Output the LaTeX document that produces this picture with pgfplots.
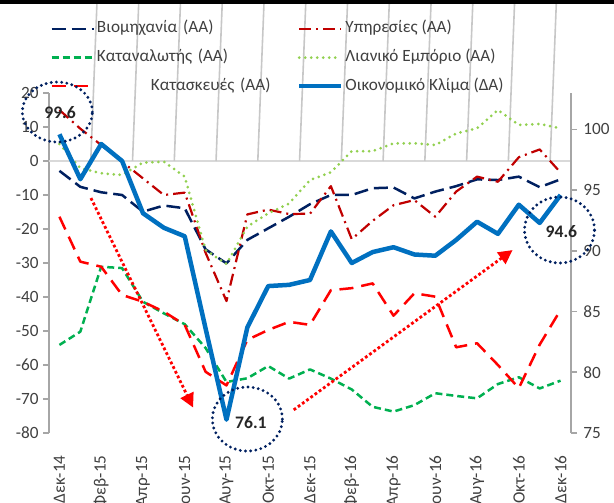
\documentclass[border=0pt]{standalone}
\usepackage{fontspec}
\setmainfont{Carlito}
\usepackage{pgfplots}
\usepackage{pgfplotstable}
\pgfplotsset{compat=1.18}
\usetikzlibrary{arrows.meta}

\definecolor{navy}{RGB}{0,32,96}
\definecolor{dred}{RGB}{192,0,0}
\definecolor{egreen}{RGB}{0,176,80}
\definecolor{lgreen}{RGB}{146,208,80}
\definecolor{ered}{RGB}{255,0,0}
\definecolor{eblue}{RGB}{0,112,192}
\definecolor{axgray}{RGB}{166,166,166}
\definecolor{zgray}{RGB}{217,217,217}
\definecolor{txt}{RGB}{64,64,64}

% x: 0 = Dec-14 ... 24 = Dec-16
\pgfplotstableread{
x ind srv cons ret con esi
0 -2.9 15.0 -54.1 5.0 -16.4 99.6
1 -7.6 9.5 -50.2 -2.1 -29.6 95.9
2 -9.2 4.7 -31.1 -3.6 -31.1 98.8
3 -10.0 -0.2 -31.5 -4.1 -39.4 97.4
4 -14.9 -5.1 -41.4 -0.5 -41.4 93.1
5 -13.1 -10.0 -44.8 -0.2 -44.3 91.9
6 -13.9 -9.3 -48.0 -4.6 -48.2 91.2
7 -26.0 -27.0 -55.0 -26.2 -62.0 83.6
8 -30.1 -41.2 -65.0 -30.3 -66.0 76.1
9 -23.2 -15.7 -63.9 -19.3 -52.6 83.7
10 -19.8 -14.3 -60.3 -15.4 -49.7 87.1
11 -16.4 -15.6 -64.0 -12.5 -47.3 87.2
12 -12.7 -15.5 -61.3 -5.6 -48.2 87.6
13 -10.0 -7.4 -64.0 -3.3 -38.0 91.6
14 -10.0 -23.0 -67.2 2.9 -37.4 89.0
15 -8.0 -17.6 -72.3 2.9 -36.0 89.9
16 -7.8 -13.0 -73.7 5.2 -45.5 90.3
17 -11.0 -11.5 -71.8 5.2 -38.9 89.7
18 -9.0 -16.4 -68.3 4.7 -39.9 89.6
19 -7.4 -9.0 -69.1 8.1 -54.8 90.9
20 -5.4 -4.6 -69.8 9.6 -53.6 92.4
21 -5.6 -6.1 -65.6 15.0 -60.0 91.4
22 -4.6 1.1 -63.6 10.6 -66.8 93.8
23 -7.7 3.4 -66.9 10.9 -54.0 92.3
24 -5.4 -3.4 -64.6 9.6 -43.8 94.6
}\data

\begin{document}
\begin{tikzpicture}
	\pgfplotsset{
		every axis/.append style={
			at={(0,0)}, anchor=south west,
			scale only axis, width=261pt, height=170pt,
			xmin=-0.5, xmax=24.5,
			tick align=outside, major tick length=3pt,
			tick label style={font=\fontsize{8.6}{10}\selectfont, text=txt},
			/pgf/number format/assume math mode=true,
			y axis line style={axgray, line width=0.8pt},
			ytick style={axgray, line width=0.8pt},
			clip=false,
		},
	}
	\begin{axis}[
	axis x line*=bottom,
	axis y line*=left,
	x axis line style={draw=none},
	xtick style={draw=none},
	ymin=-80, ymax=20,
	ytick={-80,-70,...,20},
	xtick={0,2,...,24},
	xticklabels={Δεκ-14,Φεβ-15,Απρ-15,Ιουν-15,Αυγ-15,Οκτ-15,Δεκ-15,Φεβ-16,Απρ-16,Ιουν-16,Αυγ-16,Οκτ-16,Δεκ-16},
	xticklabel style={rotate=90, anchor=east, inner sep=0pt},
	xticklabel shift=8pt,
	yticklabel style={inner xsep=0pt},
	yticklabel shift=2pt,
	legend columns=2,
	legend image code/.code={\draw[#1] (0pt,0pt) -- (21pt,0pt);},
	legend style={at={(0.002,1.213)}, anchor=north west, draw=none, fill=none,
		font=\fontsize{8.6}{10}\selectfont, text=txt, inner sep=0pt,
		row sep=6.3pt, cells={anchor=west},
		nodes={inner xsep=1pt, inner ysep=0pt, text height=6pt, text depth=2pt},
		/tikz/column 2/.style={text width=99pt}},
	]
		% zero line
		\addplot[zgray, line width=1pt, forget plot] coordinates {(-0.5,0) (24.5,0)};
		\pgfplotsinvokeforeach{1.5,3.5,...,23.5}{
			\draw[zgray!80!gray, line width=0.8pt] (axis cs:#1,0) -- ++(0,-3pt);
		}
		\addplot[navy, line width=1.25pt, dash pattern=on 7pt off 3pt, line join=round] table[x=x, y=ind] {\data};
		\addlegendentry{Βιομηχανία (ΑΑ)}
		\addplot[dred, line width=1.1pt, dash pattern=on 6pt off 2.5pt on 1pt off 2.5pt, line join=round] table[x=x, y=srv] {\data};
		\addlegendentry{Υπηρεσίες (ΑΑ)}
		\addplot[egreen, line width=1.25pt, dash pattern=on 3.5pt off 2pt, line join=round] table[x=x, y=cons] {\data};
		\addlegendentry{Καταναλωτής (ΑΑ)}
		\addplot[lgreen, line width=1.5pt, dash pattern=on 0pt off 3pt, line cap=round] table[x=x, y=ret] {\data};
		\addlegendentry{Λιανικό Εμπόριο (ΑΑ)}
		\addplot[ered, line width=1.25pt, dash pattern=on 7pt off 4pt, line join=round] table[x=x, y=con] {\data};
		\addlegendentry{\hspace{27pt}Κατασκευές (ΑΑ)}
		\addlegendimage{eblue, line width=2.25pt}
		\addlegendentry{Οικονομικό Κλίμα (ΔΑ)}

		\coordinate (a1s) at (axis cs:1.51,-10.9);
		\coordinate (a1e) at (axis cs:6.4,-72.5);
		\coordinate (a2s) at (axis cs:11.22,-73.2);
		\coordinate (a2e) at (axis cs:21.7,-26.2);
		\coordinate (k1) at (axis cs:-0.1,14.4);
		\coordinate (k2) at (axis cs:9.0,-75.9);
		\coordinate (k3) at (axis cs:23.95,-20.3);
		\coordinate (t1) at (axis cs:0.03,14.1);
		\coordinate (t2) at (axis cs:9.17,-76.8);
		\coordinate (t3) at (axis cs:24.04,-20.9);
	\end{axis}

	\begin{axis}[
	axis y line*=right,
	axis x line=none,
	ymin=75, ymax=103,
	ytick={75,80,...,100},
	yticklabel style={inner xsep=0pt},
	yticklabel shift=3pt,
	]
		\addplot[eblue, line width=2.25pt, line join=round] table[x=x, y=esi] {\data};
	\end{axis}

	% annotations
	\draw[ered, line width=1.4pt, dash pattern=on 1.4pt off 1.2pt, -{Triangle[length=7pt, width=7pt]}] (a1s) -- (a1e);
	\draw[ered, line width=1.4pt, dash pattern=on 1.4pt off 1.2pt, -{Triangle[length=7pt, width=7pt]}] (a2s) -- (a2e);
	\foreach \k/\ry in {k1/15pt, k2/16pt, k3/16.5pt}{
		\draw[navy, line width=1.6pt, dash pattern=on 0pt off 2.6pt, line cap=round] (\k) ellipse [x radius=17.5pt, y radius=\ry];
	}
	\node[font=\fontsize{8.8}{10}\selectfont\bfseries, text=black!85] at (t1) {99.6};
	\node[font=\fontsize{8.8}{10}\selectfont\bfseries, text=black!85] at (t2) {76.1};
	\node[font=\fontsize{8.8}{10}\selectfont\bfseries, text=black!85] at (t3) {94.6};

	% top rule
	\fill[black] (-24.5pt,214.5pt) rectangle (282.5pt,216.5pt);
	\pgfresetboundingbox
	\path[use as bounding box] (-24.5pt,-34.5pt) rectangle (282.5pt,216.5pt);
\end{tikzpicture}
\end{document}
